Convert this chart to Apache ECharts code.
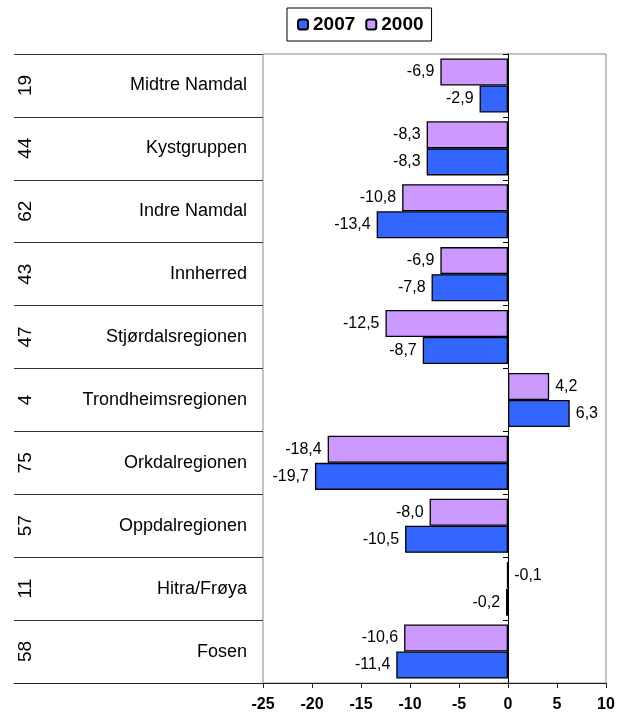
<!DOCTYPE html>
<html>
<head>
<meta charset="utf-8">
<script src="https://cdn.jsdelivr.net/npm/echarts@6/dist/echarts.min.js"></script>
<style>
    html, body { margin: 0; padding: 0; background: #fff; }
    #chart { width: 628px; height: 716px; }
</style>
</head>
<body>
<div id="chart"></div>
<script>
    // region codes and names, top to bottom
    let codes = ['19', '44', '62', '43', '47', '4', '75', '57', '11', '58']
    let names = ['Midtre Namdal', 'Kystgruppen', 'Indre Namdal', 'Innherred', 'Stjørdalsregionen',
        'Trondheimsregionen', 'Orkdalregionen', 'Oppdalregionen', 'Hitra/Frøya', 'Fosen']
    let values2007 = [-2.9, -8.3, -13.4, -7.8, -8.7, 6.3, -19.7, -10.5, -0.2, -11.4]
    let values2000 = [-6.9, -8.3, -10.8, -6.9, -12.5, 4.2, -18.4, -8.0, -0.1, -10.6]

    let font = "'Liberation Sans', Arial, sans-serif"

    function fmt(v) {
        return v.toFixed(1).replace('.', ',')
    }

    function barData(values) {
        return values.map(v => ({
            value: v,
            label: {position: v > -0.15 ? 'right' : 'left'}
        }))
    }

    let gridTop = 54
    let gridBottom = 33

    let option = {
        animation: false,
        legend: {
            data: ['2007', '2000'],
            left: 287,
            top: 8,
            padding: [7, 8, 7, 10],
            itemGap: 10,
            itemWidth: 10,
            itemHeight: 10,
            borderColor: '#000',
            borderWidth: 1,
            textStyle: {fontFamily: font, fontSize: 19, fontWeight: 'bold', color: '#000'}
        },
        grid: [{
            left: 263,
            right: 22,
            top: gridTop,
            bottom: gridBottom,
            show: true,
            borderColor: '#888',
            borderWidth: 1
        }, {
            left: 14,
            width: 249,
            top: gridTop,
            bottom: gridBottom
        }],
        xAxis: [{
            type: 'value',
            gridIndex: 0,
            min: -25,
            max: 10,
            interval: 5,
            axisLine: {show: true, onZero: false, lineStyle: {color: '#222'}},
            axisTick: {show: true, length: 5, lineStyle: {color: '#222'}},
            splitLine: {show: false},
            axisLabel: {fontFamily: font, fontSize: 16, fontWeight: 'bold', color: '#000', margin: 14}
        }, {
            type: 'value',
            gridIndex: 1,
            min: 0,
            max: 1,
            axisLine: {show: true, onZero: false, lineStyle: {color: '#222'}},
            axisTick: {show: false},
            splitLine: {show: false},
            axisLabel: {show: false}
        }],
        yAxis: [{
            type: 'category',
            gridIndex: 0,
            inverse: true,
            data: names,
            axisLine: {show: true, onZero: true, lineStyle: {color: '#000'}},
            axisTick: {show: true, length: 5, lineStyle: {color: '#000'}},
            axisLabel: {show: false},
            splitLine: {show: false}
        }, {
            type: 'category',
            gridIndex: 1,
            inverse: true,
            position: 'right',
            data: names,
            axisLine: {show: false},
            axisTick: {show: false},
            splitLine: {show: true, lineStyle: {color: '#333'}},
            axisLabel: {inside: true, margin: 16, fontFamily: font, fontSize: 18, color: '#000'}
        }, {
            type: 'category',
            gridIndex: 1,
            inverse: true,
            position: 'left',
            data: codes,
            axisLine: {show: false},
            axisTick: {show: false},
            splitLine: {show: false},
            axisLabel: {inside: true, rotate: 90, margin: 2, align: 'center', verticalAlign: 'top',
                fontFamily: font, fontSize: 19, color: '#000'}
        }],
        series: [{
            name: '2000',
            type: 'bar',
            xAxisIndex: 0,
            yAxisIndex: 0,
            barGap: '0%',
            barCategoryGap: '14%',
            data: barData(values2000),
            itemStyle: {color: '#CC99FF', borderColor: '#000', borderWidth: 1.3},
            label: {show: true, distance: 6, formatter: p => fmt(p.value), fontFamily: font, fontSize: 16, color: '#000'}
        }, {
            name: '2007',
            type: 'bar',
            xAxisIndex: 0,
            yAxisIndex: 0,
            barGap: '0%',
            barCategoryGap: '14%',
            data: barData(values2007),
            itemStyle: {color: '#3366FF', borderColor: '#000', borderWidth: 1.3},
            label: {show: true, distance: 6, formatter: p => fmt(p.value), fontFamily: font, fontSize: 16, color: '#000'}
        }]
    }

    let myChart = echarts.init(document.getElementById('chart'))
    myChart.setOption(option)
</script>
</body>
</html>
